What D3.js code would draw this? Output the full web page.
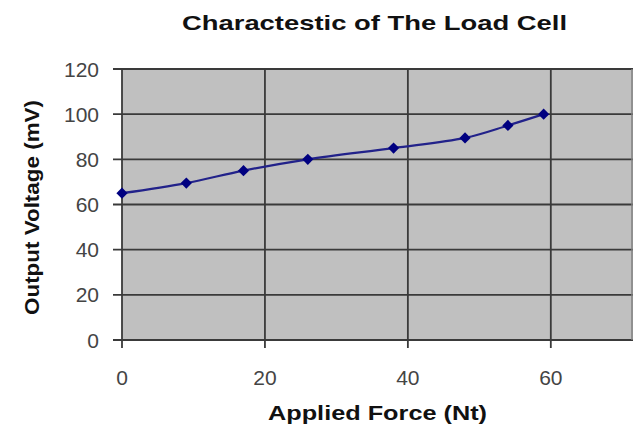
<!DOCTYPE html>
<html>
<head>
<meta charset="utf-8">
<script src="https://cdn.jsdelivr.net/npm/d3@7"></script>
<style>
body { margin: 0; background: #fff; }
text { font-family: "Liberation Sans", Arial, sans-serif; }
</style>
</head>
<body>
<svg></svg>
<script>
// readings off the load cell
var force = [0, 9, 17, 26, 38, 48, 54, 59];
var voltage = [65, 69.5, 75, 80, 85, 89.5, 95, 100];
var xTicks = [0, 20, 40, 60];
var yTicks = [0, 20, 40, 60, 80, 100, 120];

var w = 634, h = 426;
var svg = d3.select('svg')
    .attr('width', w)
    .attr('height', h);

var x = d3.scaleLinear().domain([0, 71.5]).range([122, 633]);
var y = d3.scaleLinear().domain([0, 120]).range([340, 69]);

// plot area
svg.append('rect')
    .attr('x', x(0))
    .attr('y', y(120))
    .attr('width', x(71.5) - x(0))
    .attr('height', y(0) - y(120))
    .attr('fill', '#c0c0c0');

// grid
svg.selectAll('line.hgrid')
    .data(yTicks)
    .enter()
    .append('line')
    .attr('x1', x(0) - 9)
    .attr('x2', x(71.5))
    .attr('y1', function(d){ return y(d) })
    .attr('y2', function(d){ return y(d) })
    .attr('stroke', '#3a3a3a')
    .attr('stroke-width', 1.8);

svg.selectAll('line.vgrid')
    .data(xTicks)
    .enter()
    .append('line')
    .attr('x1', function(d){ return x(d) })
    .attr('x2', function(d){ return x(d) })
    .attr('y1', y(120))
    .attr('y2', y(0) + 8)
    .attr('stroke', '#3a3a3a')
    .attr('stroke-width', 1.8);

// right edge
svg.append('line')
    .attr('x1', x(71.5) - 1).attr('x2', x(71.5) - 1)
    .attr('y1', y(120)).attr('y2', y(0))
    .attr('stroke', '#808080')
    .attr('stroke-width', 1.5);

// tick labels
svg.selectAll('text.ylab')
    .data(yTicks)
    .enter()
    .append('text')
    .attr('x', 99)
    .attr('y', function(d){ return y(d) })
    .attr('dy', '0.36em')
    .attr('text-anchor', 'end')
    .attr('font-size', 21)
    .attr('fill', '#444')
    .text(function(d){ return d });

svg.selectAll('text.xlab')
    .data(xTicks)
    .enter()
    .append('text')
    .attr('x', function(d){ return x(d) })
    .attr('y', 377)
    .attr('dy', '0.36em')
    .attr('text-anchor', 'middle')
    .attr('font-size', 21)
    .attr('fill', '#444')
    .text(function(d){ return d });

// series
var line = d3.line()
    .x(function(d, i){ return x(force[i]) })
    .y(function(d){ return y(d) })
    .curve(d3.curveCatmullRom);

svg.append('path')
    .datum(voltage)
    .attr('d', line)
    .attr('fill', 'none')
    .attr('stroke', '#22228a')
    .attr('stroke-width', 2.2);

svg.selectAll('path.marker')
    .data(voltage)
    .enter()
    .append('path')
    .attr('d', d3.symbol().type(d3.symbolDiamond2).size(80))
    .attr('transform', function(d, i){ return 'translate(' + x(force[i]) + ',' + y(d) + ')' })
    .attr('fill', '#000080');

// titles
svg.append('text')
    .attr('x', 182)
    .attr('y', 22)
    .attr('dy', '0.36em')
    .attr('font-size', 21)
    .attr('font-weight', 'bold')
    .attr('fill', '#111')
    .attr('textLength', 385)
    .attr('lengthAdjust', 'spacingAndGlyphs')
    .text('Charactestic of The Load Cell');

svg.append('text')
    .attr('x', 268)
    .attr('y', 412)
    .attr('dy', '0.36em')
    .attr('font-size', 21)
    .attr('font-weight', 'bold')
    .attr('fill', '#111')
    .attr('textLength', 219)
    .attr('lengthAdjust', 'spacingAndGlyphs')
    .text('Applied Force (Nt)');

svg.append('text')
    .attr('transform', 'translate(31,315) rotate(-90)')
    .attr('dy', '0.36em')
    .attr('font-size', 21)
    .attr('font-weight', 'bold')
    .attr('fill', '#111')
    .attr('textLength', 215)
    .attr('lengthAdjust', 'spacingAndGlyphs')
    .text('Output Voltage (mV)');
</script>
</body>
</html>
